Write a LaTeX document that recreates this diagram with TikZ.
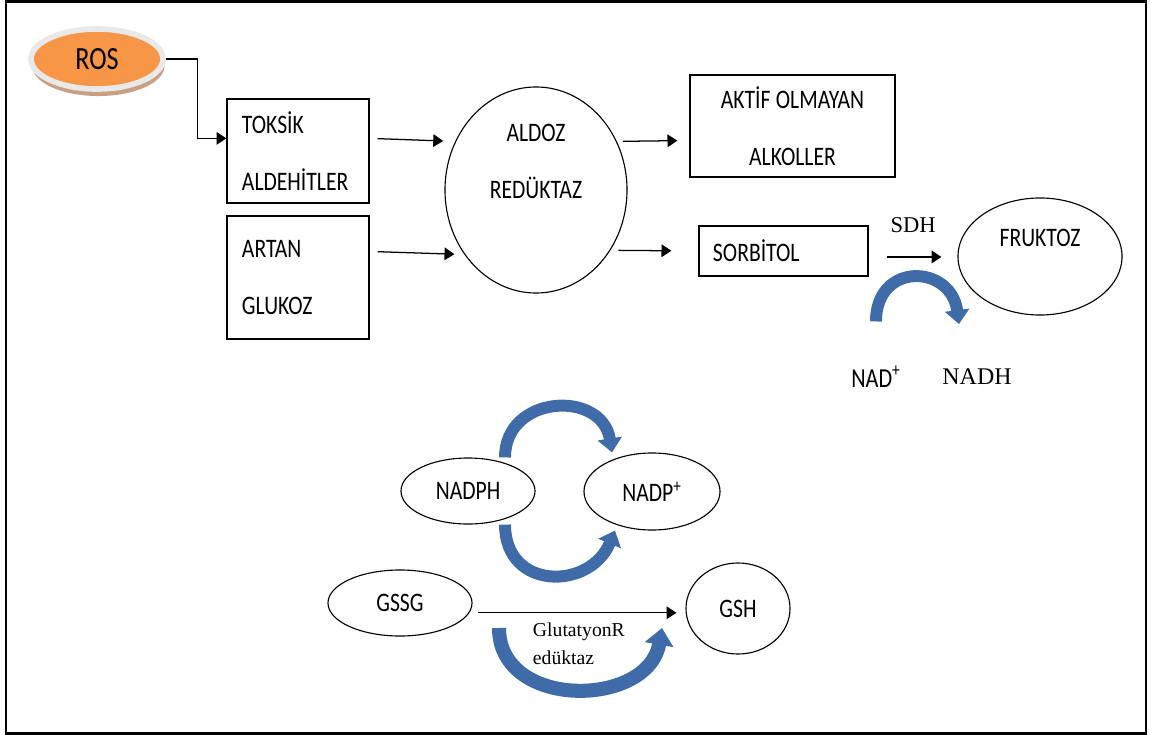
\documentclass[tikz,border=0pt]{standalone}
\usepackage{fontspec}
\setmainfont{Carlito}[FakeStretch=0.81]
\newfontfamily\timesfont{Liberation Serif}
\usetikzlibrary{arrows.meta,shapes.geometric,shadows}

\definecolor{rosorange}{HTML}{F79646}
\definecolor{rosring}{HTML}{E9E9E9}
\definecolor{rosbrown}{HTML}{C9A084}
\definecolor{arcblue}{HTML}{3F6CA8}

\tikzset{
    box/.style={
        draw,
        rectangle,
        line width=0.9pt,
        align=left,
        inner xsep=0.375cm,
        font=\fontsize{19}{40.5}\selectfont
    },
    oval/.style={
        draw,
        ellipse,
        line width=0.8pt,
        inner sep=0pt,
        align=center,
        font=\fontsize{19}{40.5}\selectfont
    },
    flow/.style={-{Triangle[length=7pt,width=9pt]}, line width=0.9pt},
    bluearc/.style={-{Triangle[length=10pt,width=17pt]}, line width=8.5pt, draw=arcblue},
    bigarc/.style={-{Triangle[length=12pt,width=20pt]}, line width=10pt, draw=arcblue},
    serif/.style={font=\timesfont\fontsize{#1}{20}\selectfont}
}

\begin{document}
\begin{tikzpicture}[x=0.025cm, y=-0.025cm]
    \useasboundingbox (0,0) rectangle (1156,735);
    \draw[line width=1.7pt] (6,1.5) rectangle (1146,733.5);

    % upper part
    \node[
        ellipse,
        fill=rosorange,
        draw=rosring,
        line width=4pt,
        minimum width=3.3cm,
        minimum height=1.5cm,
        drop shadow={shadow xshift=1pt, shadow yshift=-5pt, fill=rosbrown, opacity=1},
        font=\fontsize{23}{26}\selectfont
    ] (ros) at (97,59) {ROS};

    \node[box, text width=2.8cm, minimum height=2.6cm] (toksik) at (298,151) {TOKSİK\\ALDEHİTLER};
    \node[box, text width=2.8cm, minimum height=3.075cm] (artan) at (298,277.5) {ARTAN\\GLUKOZ};
    \node[oval, minimum width=4.55cm, minimum height=5.15cm] (aldoz) at (536,190) {ALDOZ\\REDÜKTAZ\\\mbox{}};
    \node[box, align=center, text width=4.375cm, minimum height=2.55cm] (aktif) at (792.5,126) {AKTİF\hspace{0.2em}OLMAYAN\\ALKOLLER};
    \node[box, inner xsep=0.35cm, text width=3.525cm, minimum height=1.25cm] (sorbitol) at (783.5,251) {SORBİTOL};
    \node[oval, minimum width=4.1cm, minimum height=2.925cm] (fruktoz) at (1040,256.5) {FRUKTOZ\\[-0.5cm]\mbox{}};

    \draw[flow] (ros.east) -- ++(32,0) |- (toksik.170);
    \draw[flow, shorten <=0.2cm, shorten >=0.3cm] (toksik.10) -- (aldoz.149);
    \draw[flow, shorten <=0.2cm, shorten >=0.25cm] (artan.20) -- (aldoz.222);
    \draw[flow, shorten <=0.15cm, shorten >=0.3cm] (aldoz.31) -- (aktif.188);
    \draw[flow, shorten <=0.2cm, shorten >=0.675cm] (aldoz.321) -- (sorbitol.west);
    \draw[flow, shorten <=0.45cm, shorten >=0.4cm] (sorbitol.356) -- (sorbitol.356 -| fruktoz.west)
        node[midway, yshift=0.8cm, serif=16] {SDH};

    \node[font=\fontsize{19.5}{22}\selectfont] (nad) at (876,377) {NAD\textsuperscript{+}};
    \node[serif=17] (nadh) at (977,377) {NADH};
    \draw[bluearc] ([yshift=1cm]nad.north) .. controls +(0,-60) and +(-8,-60) .. ([xshift=-0.45cm, yshift=1cm]nadh.north);

    % lower part
    \node[oval, minimum width=3.35cm, minimum height=1.65cm] (nadph) at (468,491) {NADPH};
    \node[oval, minimum width=3.4cm, minimum height=1.925cm] (nadp) at (652,491.5) {NADP\textsuperscript{+}};
    \node[oval, minimum width=3.6cm, minimum height=1.65cm] (gssg) at (400,603) {GSSG};
    \node[oval, minimum width=2.6cm, minimum height=2.275cm] (gsh) at (738,608.5) {GSH};

    \draw[bluearc] ([xshift=0.925cm]nadph.north) .. controls +(0,-63) and +(-10,-63) .. ([xshift=-1cm]nadp.north);
    \draw[bluearc] ([xshift=0.925cm]nadph.south) .. controls +(0,66) and +(-25,60) .. ([xshift=-0.925cm]nadp.south);

    \draw[flow, shorten <=0.225cm, shorten >=0.225cm] (gssg.352) -- (gssg.352 -| gsh.west);
    \node[serif=14, align=left, anchor=west] (glut) at (528,644) {GlutatyonR\\edüktaz};

    \coordinate (gr start) at (499,628);
    \coordinate (gr end) at (662,628);
    \draw[bigarc] (gr start) .. controls +(0,82) and +(-14,80) .. (gr end);
\end{tikzpicture}
\end{document}
